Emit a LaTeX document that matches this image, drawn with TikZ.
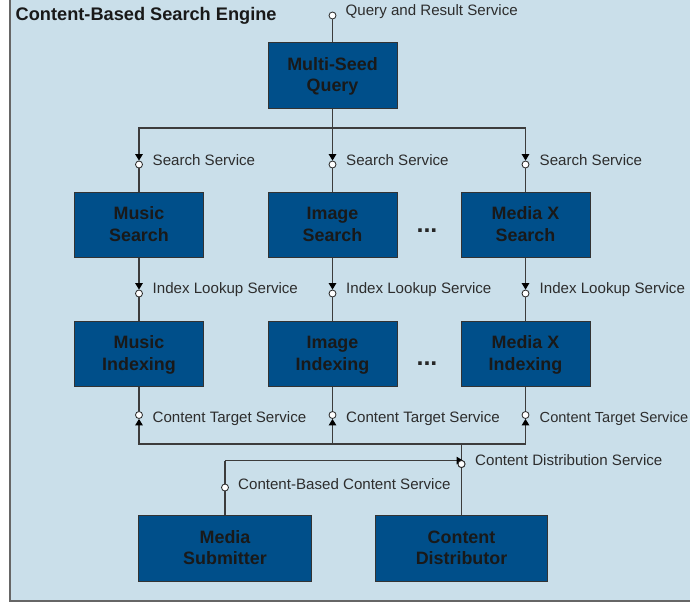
\documentclass[tikz,border=0pt]{standalone}
\usepackage{fontspec}
\setmainfont{Liberation Sans}
\usetikzlibrary{arrows.meta,calc}
\definecolor{panel}{RGB}{202,223,234}
\definecolor{boxblue}{RGB}{0,79,138}
\definecolor{edge}{RGB}{60,60,60}
\definecolor{lab}{RGB}{45,45,45}
\newcommand\twoline[2]{\rule[-4.2pt]{0pt}{19.2pt}#1\\#2\rule[-4.2pt]{0pt}{19.2pt}}
\tikzset{
  x=1pt,y=-1pt,
  comp/.style={draw=black!80,line width=0.7pt,fill=boxblue,minimum height=65.5pt,align=center,inner sep=0pt,
    font=\fontsize{17.9}{21.8}\selectfont\bfseries,text=black!90},
  small/.style={comp,minimum width=129pt},
  wide/.style={comp,minimum width=172.5pt},
  lolli/.style={circle,draw=black!85,line width=0.8pt,fill=white,minimum size=7pt,inner sep=0pt},
  lab/.style={anchor=west,inner sep=0pt,text=lab,font=\fontsize{15.1}{17}\selectfont},
  wire/.style={draw=edge,line width=1.1pt},
  req/.style={wire,-{Triangle[length=6.5pt,width=7.5pt,color=black]}},
  dots/.style={inner sep=0pt,font=\fontsize{25}{25}\selectfont\bfseries,text=black!85}
}
\begin{document}
\begin{tikzpicture}
\useasboundingbox (0,0) rectangle (690,605);
\fill[white] (0,0) rectangle (690,605);
\path[fill=panel,draw=black!60,line width=1.2pt] (10,-2) rectangle (692,601);
\node[anchor=west,inner sep=0pt,font=\fontsize{18.2}{20}\selectfont\bfseries,text=black!90] (title) at (15.5,16) {Content-Based Search Engine};
% components
\node[small] (msq) at (332.5,75.5) {\twoline{Multi-Seed}{Query}};
\node[small] (ms) at (139,225) {\twoline{Music}{Search}};
\node[small] (is) at (332.5,225) {\twoline{Image}{Search}};
\node[small] (xs) at (525.5,225) {\twoline{Media X}{Search}};
\node[small] (mi) at (139,354) {\twoline{Music}{Indexing}};
\node[small] (ii) at (332.5,354) {\twoline{Image}{Indexing}};
\node[small] (xi) at (525.5,354) {\twoline{Media X}{Indexing}};
\node[wide] (sub) at (225,548.5) {\twoline{Media}{Submitter}};
\node[wide] (dist) at (461.5,548.5) {\twoline{Content}{Distributor}};
\node[dots] (d1) at (427,231) {...};
\node[dots] (d2) at (427,364) {...};
% interface circles
\node[lolli] (qi) at (332.5,15.5) {};
\node[lolli] (ss1) at (139,164.5) {};
\node[lolli] (ss2) at (332.5,164.5) {};
\node[lolli] (ss3) at (525.5,164.5) {};
\node[lolli] (il1) at (139,293.5) {};
\node[lolli] (il2) at (332.5,293.5) {};
\node[lolli] (il3) at (525.5,293.5) {};
\node[lolli] (ct1) at (139,415) {};
\node[lolli] (ct2) at (332.5,415) {};
\node[lolli] (ct3) at (525.5,415) {};
\node[lolli] (cd) at (461.5,464) {};
\node[lolli] (cb) at (225,487.5) {};
% junctions
\coordinate (jtop) at (332.5,128);
\coordinate (jbot) at (332.5,444);
\coordinate (jd) at (461.5,444);
\coordinate (jsub) at (225,460.5);
% connectors
\draw[wire] (qi) -- (msq);
\draw[wire] (ss1) -- (ms);
\draw[wire] (ss2) -- (is);
\draw[wire] (ss3) -- (xs);
\draw[wire] (il1) -- (mi);
\draw[wire] (il2) -- (ii);
\draw[wire] (il3) -- (xi);
\draw[wire] (ct1) -- (mi);
\draw[wire] (ct2) -- (ii);
\draw[wire] (ct3) -- (xi);
\draw[wire] (cb) -- (sub);
\draw[wire] (cd) -- (dist);
\draw[wire] (msq) -- (jtop);
\draw[req] (jtop) -| (ss1);
\draw[req] (jtop) -- (ss2);
\draw[req] (jtop) -| (ss3);
\draw[req] (ms) -- (il1);
\draw[req] (is) -- (il2);
\draw[req] (xs) -- (il3);
\draw[req] (jd) -| (ct1);
\draw[req] (jbot) -- (ct2);
\draw[req] (jd) -| (ct3);
\draw[wire] (jd) -- (cd);
\draw[wire] (cb) -- (jsub);
\draw[req] (jsub) -- ($(jsub -| cd)+(1.5,0)$);
\node[lolli] at (cd) {};
% labels
\node[lab] (lq) at (345.5,11.5) {Query and Result Service};
\node[lab] at (152.5,160.5) {Search Service};
\node[lab] at (346,160.5) {Search Service};
\node[lab] at (539.5,160.5) {Search Service};
\node[lab] at (152.5,290) {Index Lookup Service};
\node[lab] at (346,290) {Index Lookup Service};
\node[lab] at (539.5,290) {Index Lookup Service};
\node[lab] at (152.5,419) {Content Target Service};
\node[lab] at (346,419) {Content Target Service};
\node[lab,font=\fontsize{14.6}{17}\selectfont] at (539.5,419) {Content Target Service};
\node[lab] at (475,460.5) {Content Distribution Service};
\node[lab] at (238,484.5) {Content-Based Content Service};
\end{tikzpicture}
\end{document}
